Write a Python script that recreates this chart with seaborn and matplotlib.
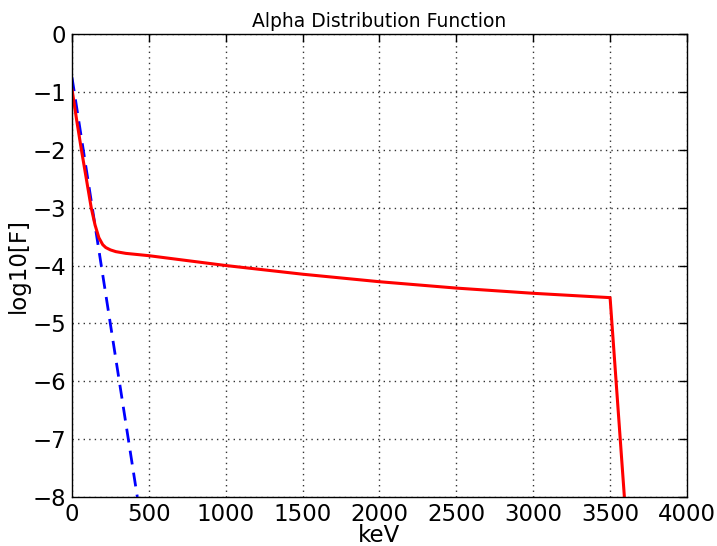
import matplotlib
matplotlib.use("Agg")
import matplotlib.pyplot as plt
import seaborn as sns
import pandas as pd

# alpha distribution (red, solid) and maxwellian (blue, dashed)
alpha_kev = [0, 30, 60, 90, 125, 150, 175, 200, 220, 250, 285, 350, 500,
             1000, 1500, 2000, 2500, 3000, 3500, 3593]
alpha_logf = [-0.95, -1.48, -1.98, -2.45, -3.0, -3.3, -3.52, -3.64, -3.69, -3.73,
              -3.76, -3.79, -3.83, -4.0, -4.15, -4.28, -4.39, -4.48, -4.555, -8.0]
maxw_kev = [0, 425]
maxw_logf = [-0.75, -8.0]

x_ticks = [0, 500, 1000, 1500, 2000, 2500, 3000, 3500, 4000]
y_ticks = [0, -1, -2, -3, -4, -5, -6, -7, -8]

sns.set_style("white")
plt.rcParams['font.family'] = ['DejaVu Sans']
plt.rcParams['text.color'] = 'black'
plt.rcParams['axes.labelcolor'] = 'black'

alpha_df = pd.DataFrame({"keV": alpha_kev, "logF": alpha_logf})
maxw_df = pd.DataFrame({"keV": maxw_kev, "logF": maxw_logf})

fig = plt.figure(figsize=(7.17, 5.46), dpi=100)
ax = fig.add_axes([0.1004, 0.0897, 0.8577, 0.848])

sns.lineplot(data=maxw_df, x="keV", y="logF", ax=ax, color="blue",
             linewidth=2, estimator=None, sort=False)
ax.lines[-1].set_dashes([5, 3])
sns.lineplot(data=alpha_df, x="keV", y="logF", ax=ax, color="red",
             linewidth=2.2, estimator=None, sort=False)

ax.set_xlim(0, 4000)
ax.set_ylim(-8, 0)
ax.set_xticks(x_ticks)
ax.set_yticks(y_ticks)
ax.tick_params(direction="in", top=True, right=True, length=6, width=1,
               labelsize=16.5, pad=4, colors="black")
ax.grid(True, color="black", linewidth=1, alpha=0.8, dashes=(1, 3))
for s in ax.spines.values():
    s.set_color("black")
    s.set_linewidth(1)

ax.set_xlabel("keV", fontsize=16.5, labelpad=-1)
ax.set_ylabel("log10[F]", fontsize=16.5, labelpad=2)
ax.set_title("Alpha Distribution Function", fontsize=13.5, pad=5)

fig.savefig("out.png", dpi=100)
